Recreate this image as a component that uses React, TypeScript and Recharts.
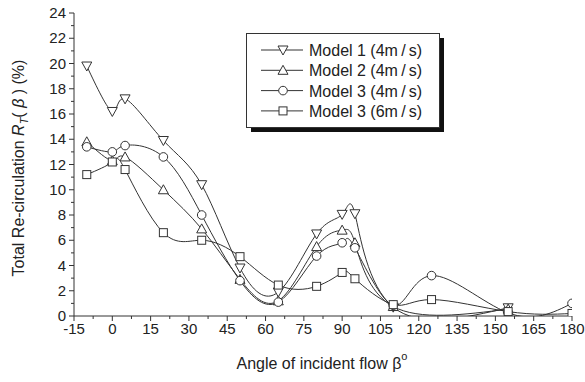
import React from "react";
import { Legend, Line, LineChart, XAxis, YAxis } from "recharts";

const FONT = "'Liberation Sans', Arial, Helvetica, sans-serif";
const INK = "#222";
const LINE = "#333";

// angles (deg)
const anglesM12 = [-10, 0, 5, 20, 35, 50, 65, 80, 90, 95, 110, 155];
const anglesM3 = [-10, 0, 5, 20, 35, 50, 65, 80, 90, 95, 110, 125, 155, 180];

// total re-circulation (%)
const model1 = [19.8, 16.2, 17.2, 13.9, 10.4, 3.8, 1.9, 6.5, 8.05, 8.1, 0.7, 0.65];
const model2 = [13.8, 12.3, 12.6, 10.0, 6.9, 2.9, 1.2, 5.5, 6.8, 5.8, 0.75, 0.55];
const model3a = [13.4, 13.0, 13.5, 12.6, 8.0, 2.8, 1.1, 4.75, 5.8, 5.4, 0.85, 3.2, 0.25, 1.0];
const model3b = [11.2, 12.2, 11.6, 6.6, 6.0, 4.7, 2.45, 2.35, 3.45, 2.95, 0.9, 1.3, 0.35, 0.2];

const seriesNames = ["Model 1 (4m/s)", "Model 2 (4m/s)", "Model 3 (4m/s)", "Model 3 (6m/s)"];

const xTicks = Array.from({ length: 27 }, (_, i) => -15 + i * 7.5);
const yTicks = Array.from({ length: 25 }, (_, i) => i);

const toRows = (xs: number[], ys: number[]) => xs.map((x, i) => ({ x, y: ys[i] }));

type Shape = "down" | "up" | "circle" | "square";

function Marker({ shape, cx, cy }: { shape: Shape; cx: number; cy: number }) {
  const common = { fill: "#fff", stroke: LINE, strokeWidth: 1 };
  if (shape === "down")
    return <polygon {...common} points={`${cx - 5},${cy - 4} ${cx + 5},${cy - 4} ${cx},${cy + 5}`} />;
  if (shape === "up")
    return <polygon {...common} points={`${cx - 5},${cy + 4} ${cx + 5},${cy + 4} ${cx},${cy - 5}`} />;
  if (shape === "circle") return <circle {...common} cx={cx} cy={cy} r={4.3} />;
  return <rect {...common} x={cx - 4} y={cy - 4} width={8} height={8} />;
}

const dotFor = (shape: Shape) => (p: any) => {
  if (p.cx == null || p.cy == null) return <g key={`e${p.index}`} />;
  return (
    <g key={`${shape}${p.index}`}>
      <Marker shape={shape} cx={p.cx} cy={p.cy} />
    </g>
  );
};

const XTick = (p: any) => {
  const v = p.payload.value;
  const major = Math.abs(v % 15) < 1e-6;
  return (
    <g>
      <line x1={p.x} x2={p.x} y1={p.y} y2={p.y + (major ? 5 : 3)} stroke={LINE} />
      {major && (
        <text x={p.x} y={p.y + 18} textAnchor="middle" fontSize={15} fontFamily={FONT} fill={INK}>
          {v}
        </text>
      )}
    </g>
  );
};

const YTick = (p: any) => {
  const v = p.payload.value;
  const major = v % 2 === 0;
  return (
    <g>
      <line x1={p.x} x2={p.x - (major ? 5 : 3)} y1={p.y} y2={p.y} stroke={LINE} />
      {major && (
        <text x={p.x - 8} y={p.y + 5} textAnchor="end" fontSize={15} fontFamily={FONT} fill={INK}>
          {v}
        </text>
      )}
    </g>
  );
};

const shapes: Shape[] = ["down", "up", "circle", "square"];

const LegendBox = () => (
  <svg width={200} height={102} style={{ display: "block" }}>
    <rect x={5} y={5} width={193} height={94} fill="#111" />
    <rect x={0.5} y={0.5} width={193} height={94} fill="#fff" stroke={LINE} />
    {seriesNames.map((name, i) => {
      const cy = 17 + i * 20.3;
      return (
        <g key={name}>
          <line x1={15} x2={57} y1={cy} y2={cy} stroke={LINE} />
          <Marker shape={shapes[i]} cx={37} cy={cy} />
          <text x={63} y={cy + 6} fontSize={16} fontFamily={FONT} fill={INK}>
            {name.replace("m/s", "m\u2009/\u2009s")}
          </text>
        </g>
      );
    })}
  </svg>
);

const YTitle = () => (
  <text
    transform="translate(24,168) rotate(-90)"
    textAnchor="middle"
    fontSize={16}
    fontFamily={FONT}
    fill={INK}
  >
    Total Re-circulation <tspan fontStyle="italic">R</tspan>
    <tspan fontStyle="italic" fontSize={11} dy={4}>T</tspan>
    <tspan dy={-4}>( </tspan>
    <tspan fontStyle="italic">β</tspan>
    <tspan> ) (%)</tspan>
  </text>
);

const XTitle = () => (
  <text x={322} y={369} textAnchor="middle" fontSize={16} fontFamily={FONT} fill={INK}>
    Angle of incident flow β<tspan fontSize={11} dy={-9}>o</tspan>
  </text>
);

export default function App() {
  const rows = [
    toRows(anglesM12, model1),
    toRows(anglesM12, model2),
    toRows(anglesM3, model3a),
    toRows(anglesM3, model3b),
  ];
  return (
    <div style={{ position: "absolute", left: 0, top: 0, background: "#fff" }}>
      <LineChart width={585} height={382} margin={{ top: 13, right: 13, left: 0, bottom: 0 }}>
        <XAxis
          type="number"
          dataKey="x"
          domain={[-15, 180]}
          ticks={xTicks}
          interval={0}
          height={66}
          tickSize={0}
          tickMargin={0}
          tickLine={false}
          axisLine={{ stroke: LINE }}
          tick={XTick}
          allowDataOverflow
          label={{ content: XTitle }}
        />
        <YAxis
          type="number"
          domain={[0, 24]}
          ticks={yTicks}
          interval={0}
          width={74}
          tickSize={0}
          tickMargin={0}
          tickLine={false}
          axisLine={{ stroke: LINE }}
          tick={YTick}
          allowDataOverflow
          label={{ content: YTitle }}
        />
        <Legend
          layout="vertical"
          align="center"
          verticalAlign="middle"
          content={LegendBox}
          wrapperStyle={{ left: 246, top: 33, width: 200, height: 102 }}
        />
        {rows.map((data, i) => (
          <Line
            key={seriesNames[i]}
            data={data}
            dataKey="y"
            name={seriesNames[i]}
            type="natural"
            stroke={LINE}
            strokeWidth={1}
            dot={dotFor(shapes[i])}
            activeDot={false}
            isAnimationActive={false}
          />
        ))}
      </LineChart>
    </div>
  );
}
